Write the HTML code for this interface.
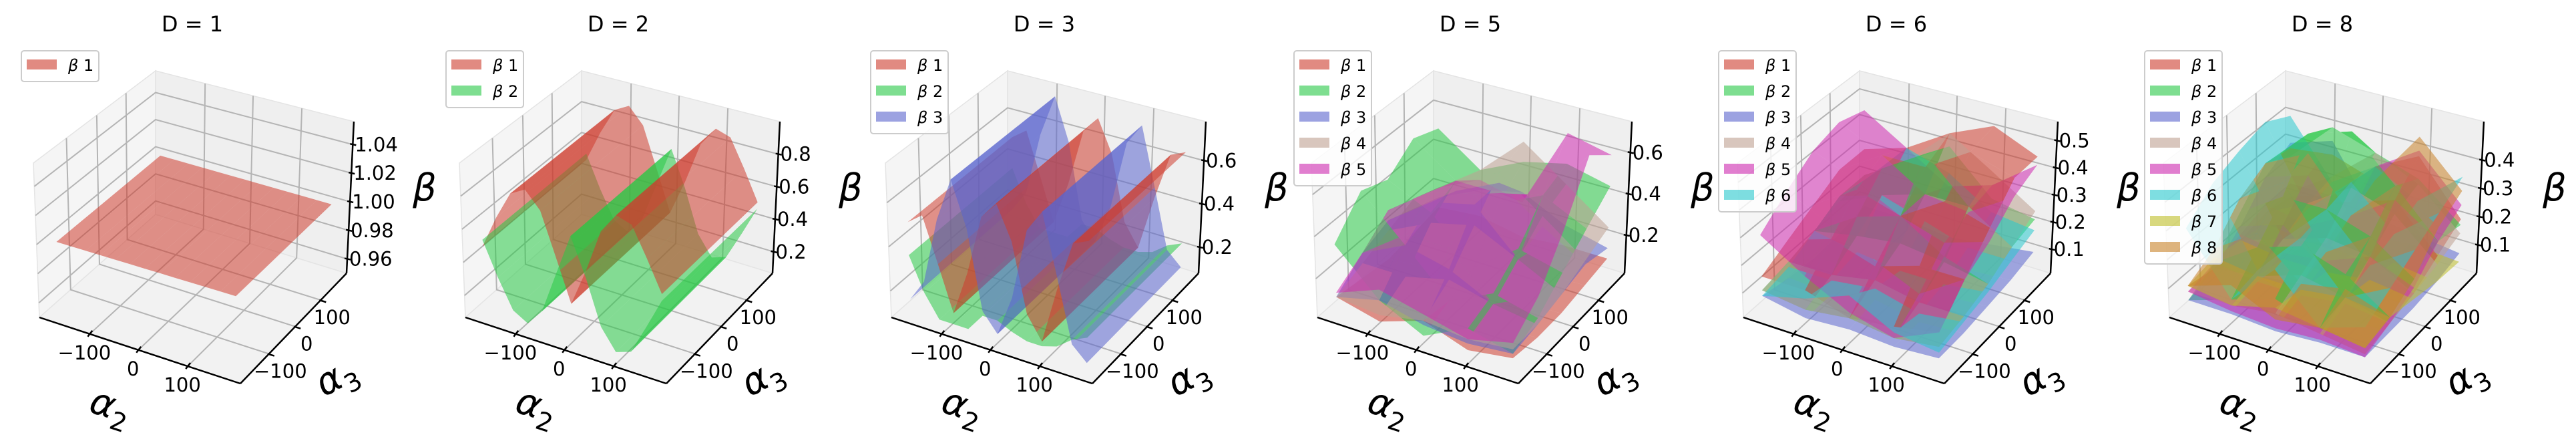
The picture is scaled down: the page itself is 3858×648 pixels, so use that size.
<!DOCTYPE html>
<html><head><meta charset="utf-8"><style>
html,body{margin:0;padding:0;background:#fff;}
svg{display:block;font-family:"DejaVu Sans","Liberation Sans",sans-serif;}
</style></head><body>
<svg id="chart" width="3858" height="648" viewBox="0 0 3858 648" xmlns="http://www.w3.org/2000/svg"></svg>
<script>
// ---------- data ----------
const a2Grid1D = [-180,-150,-120,-90,-60,-30,0,30,60,90,120,150,180];
const a2Grid2D = [-180,-90,0,90,180];
const a3Grid2D = [-180,-90,0,90,180];
const a2Ticks = [-100,0,100];
const a3Ticks = [-100,0,100];

const d1Beta1 = [1,1,1,1,1,1,1,1,1,1,1,1,1];
const d2Beta1 = [0.48,0.68,0.85,0.90,0.80,0.55,0.30,0.52,0.78,0.90,0.87,0.70,0.52];
const d2Beta2 = [0.52,0.32,0.15,0.10,0.20,0.45,0.70,0.48,0.22,0.10,0.13,0.30,0.48];
const d3Beta1 = [0.50,0.55,0.35,0.15,0.35,0.62,0.70,0.55,0.25,0.15,0.40,0.62,0.65];
const d3Beta2 = [0.35,0.20,0.10,0.10,0.10,0.18,0.18,0.15,0.13,0.13,0.15,0.20,0.23];
const d3Beta3 = [0.15,0.25,0.55,0.75,0.55,0.20,0.12,0.30,0.62,0.72,0.45,0.18,0.12];

const d5Beta1 = [[0.10,0.08,0.06,0.08,0.10],[0.05,0.05,0.08,0.10,0.12],[0.12,0.10,0.06,0.05,0.08],[0.05,0.04,0.05,0.08,0.10],[0.08,0.06,0.06,0.08,0.10]];
const d5Beta2 = [[0.35,0.50,0.45,0.55,0.50],[0.15,0.30,0.35,0.40,0.35],[0.05,0.10,0.15,0.35,0.45],[0.15,0.20,0.30,0.45,0.50],[0.10,0.15,0.25,0.35,0.45]];
const d5Beta3 = [[0.10,0.20,0.25,0.20,0.15],[0.15,0.30,0.40,0.35,0.25],[0.10,0.25,0.45,0.45,0.30],[0.08,0.15,0.25,0.30,0.20],[0.10,0.12,0.15,0.18,0.15]];
const d5Beta4 = [[0.10,0.15,0.20,0.25,0.20],[0.08,0.15,0.30,0.40,0.35],[0.12,0.20,0.35,0.50,0.55],[0.10,0.15,0.25,0.35,0.40],[0.12,0.12,0.15,0.20,0.25]];
const d5Beta5 = [[0.12,0.20,0.30,0.25,0.20],[0.20,0.35,0.45,0.40,0.30],[0.15,0.35,0.50,0.40,0.25],[0.10,0.15,0.25,0.45,0.65],[0.15,0.25,0.45,0.70,0.60]];

const d6Beta1 = [[0.15,0.20,0.25,0.30,0.30],[0.15,0.25,0.35,0.40,0.35],[0.10,0.20,0.30,0.40,0.45],[0.12,0.25,0.40,0.50,0.52],[0.15,0.25,0.35,0.45,0.45]];
const d6Beta2 = [[0.10,0.12,0.15,0.20,0.20],[0.08,0.12,0.25,0.35,0.30],[0.10,0.15,0.30,0.45,0.40],[0.08,0.12,0.20,0.30,0.25],[0.10,0.12,0.15,0.20,0.22]];
const d6Beta3 = [[0.08,0.06,0.05,0.06,0.08],[0.05,0.05,0.06,0.07,0.08],[0.06,0.08,0.10,0.08,0.06],[0.05,0.05,0.06,0.07,0.08],[0.06,0.06,0.07,0.08,0.10]];
const d6Beta4 = [[0.10,0.12,0.15,0.18,0.20],[0.08,0.12,0.18,0.25,0.30],[0.10,0.15,0.20,0.30,0.45],[0.08,0.12,0.18,0.30,0.35],[0.10,0.12,0.15,0.20,0.25]];
const d6Beta5 = [[0.30,0.38,0.45,0.48,0.45],[0.20,0.30,0.38,0.40,0.35],[0.12,0.22,0.30,0.30,0.25],[0.08,0.15,0.25,0.28,0.30],[0.15,0.25,0.30,0.38,0.42]];
const d6Beta6 = [[0.08,0.10,0.15,0.20,0.18],[0.12,0.10,0.12,0.25,0.35],[0.18,0.12,0.10,0.20,0.30],[0.10,0.08,0.10,0.15,0.20],[0.08,0.10,0.12,0.15,0.18]];

const d8Beta1 = [[0.10,0.08,0.10,0.12,0.10],[0.08,0.10,0.15,0.20,0.15],[0.10,0.12,0.18,0.25,0.30],[0.08,0.10,0.15,0.30,0.38],[0.06,0.08,0.10,0.15,0.20]];
const d8Beta2 = [[0.05,0.10,0.20,0.30,0.25],[0.10,0.20,0.30,0.45,0.40],[0.15,0.25,0.30,0.50,0.35],[0.10,0.20,0.25,0.35,0.30],[0.08,0.10,0.15,0.20,0.18]];
const d8Beta3 = [[0.05,0.08,0.15,0.25,0.30],[0.05,0.10,0.20,0.30,0.35],[0.04,0.06,0.08,0.10,0.12],[0.05,0.05,0.06,0.08,0.10],[0.05,0.05,0.05,0.06,0.08]];
const d8Beta4 = [[0.08,0.08,0.10,0.12,0.12],[0.08,0.10,0.15,0.20,0.22],[0.10,0.15,0.20,0.30,0.35],[0.08,0.12,0.18,0.25,0.28],[0.06,0.08,0.10,0.12,0.15]];
const d8Beta5 = [[0.08,0.10,0.12,0.15,0.15],[0.06,0.08,0.10,0.12,0.15],[0.05,0.08,0.12,0.20,0.30],[0.06,0.10,0.18,0.30,0.40],[0.05,0.08,0.12,0.20,0.25]];
const d8Beta6 = [[0.30,0.38,0.42,0.45,0.40],[0.10,0.12,0.15,0.18,0.20],[0.25,0.28,0.30,0.32,0.30],[0.10,0.12,0.15,0.18,0.22],[0.15,0.20,0.25,0.30,0.35]];
const d8Beta7 = [[0.10,0.12,0.10,0.08,0.06],[0.08,0.10,0.08,0.06,0.05],[0.12,0.10,0.08,0.06,0.05],[0.10,0.12,0.10,0.08,0.06],[0.08,0.10,0.08,0.06,0.05]];
const d8Beta8 = [[0.10,0.15,0.25,0.30,0.28],[0.15,0.25,0.35,0.38,0.30],[0.08,0.12,0.15,0.20,0.25],[0.10,0.15,0.25,0.35,0.45],[0.08,0.10,0.15,0.25,0.30]];

const zTicks1 = [0.96,0.98,1.00,1.02,1.04];
const zTicks2 = [0.2,0.4,0.6,0.8];
const zTicks3 = [0.2,0.4,0.6];
const zTicks5 = [0.2,0.4,0.6];
const zTicks6 = [0.1,0.2,0.3,0.4,0.5];
const zTicks8 = [0.1,0.2,0.3,0.4];

const palette = ['rgb(205,60,45)','rgb(40,200,70)','rgb(90,100,205)','rgb(190,160,145)','rgb(205,40,175)','rgb(40,200,205)','rgb(190,190,40)','rgb(200,130,40)'];

const panels = [
 {title:'D = 1', zlim:[0.950,1.056], zticks:zTicks1, dec:2, oneD:true, series:[d1Beta1]},
 {title:'D = 2', zlim:[0.068,1.0], zticks:zTicks2, dec:1, oneD:true, series:[d2Beta1,d2Beta2]},
 {title:'D = 3', zlim:[0.08,0.78], zticks:zTicks3, dec:1, oneD:true, series:[d3Beta1,d3Beta2,d3Beta3]},
 {title:'D = 5', zlim:[0.016,0.75], zticks:zTicks5, dec:1, oneD:false, series:[d5Beta1,d5Beta2,d5Beta3,d5Beta4,d5Beta5]},
 {title:'D = 6', zlim:[0.012,0.57], zticks:zTicks6, dec:1, oneD:false, series:[d6Beta1,d6Beta2,d6Beta3,d6Beta4,d6Beta5,d6Beta6]},
 {title:'D = 8', zlim:[0.0,0.536], zticks:zTicks8, dec:1, oneD:false, series:[d8Beta1,d8Beta2,d8Beta3,d8Beta4,d8Beta5,d8Beta6,d8Beta7,d8Beta8]}
];
const offsets = [0,638,1276,1914,2552,3190];

// ---------- projection ----------
function squareToQuad(p){
  const [x0,y0]=p[0],[x1,y1]=p[1],[x2,y2]=p[2],[x3,y3]=p[3];
  const dx1=x1-x2,dx2=x3-x2,dx3=x0-x1+x2-x3,dy1=y1-y2,dy2=y3-y2,dy3=y0-y1+y2-y3;
  const den=dx1*dy2-dx2*dy1;
  const g=(dx3*dy2-dx2*dy3)/den, h=(dx1*dy3-dx3*dy1)/den;
  const a=x1-x0+g*x1,b=x3-x0+h*x3,c=x0,d=y1-y0+g*y1,e=y3-y0+h*y3,f=y0;
  return (u,v)=>{const w=g*u+h*v+1;return [(a*u+b*v+c)/w,(d*u+e*v+f)/w];};
}
const Hf = squareToQuad([[59,475],[360,574],[519,409],[233,321]]);
const Hc = squareToQuad([[50,244],[364,331],[530,182],[233,106]]);
function P(u,v,w){const f=Hf(u,v),c=Hc(u,v);return [f[0]+(c[0]-f[0])*w,f[1]+(c[1]-f[1])*w];}
const uOf = a=>(a+205)/410;
const vOf = a=>(a+205)/410;

const NS='http://www.w3.org/2000/svg';
const svg=document.getElementById('chart');
function el(tag,attrs,parent){const e=document.createElementNS(NS,tag);for(const k in attrs)e.setAttribute(k,attrs[k]);(parent||svg).appendChild(e);return e;}
function pts(arr){return arr.map(p=>p[0].toFixed(1)+','+p[1].toFixed(1)).join(' ');}

panels.forEach((pd,pi)=>{
  const g=el('g',{transform:'translate('+offsets[pi]+',0)'});
  
  
  const [zmin,zmax]=pd.zlim;
  const wOf=z=>(z-zmin)/(zmax-zmin);

  const t=el('text',{x:288,y:47,'text-anchor':'middle','font-size':32,fill:'#000'},g);
  t.textContent=pd.title;
  
  

  const left=el('polygon',{points:pts([P(0,0,0),P(0,1,0),P(0,1,1),P(0,0,1)]),fill:'#f5f5f5',stroke:'#e4e4e4','stroke-width':1.5},g);
  
  
  const back=el('polygon',{points:pts([P(0,1,0),P(1,1,0),P(1,1,1),P(0,1,1)]),fill:'#efefef',stroke:'#e4e4e4','stroke-width':1.5},g);
  
  
  const floor=el('polygon',{points:pts([P(0,0,0),P(1,0,0),P(1,1,0),P(0,1,0)]),fill:'#f2f2f2',stroke:'#e4e4e4','stroke-width':1.5},g);
  
  

  const gl=el('g',{stroke:'#b4b4b4','stroke-width':2,fill:'none'},g);
  
  
  a2Ticks.forEach(a=>{const u=uOf(a);
    el('polyline',{points:pts([P(u,0,0),P(u,1,0),P(u,1,1)])},gl);});
  a3Ticks.forEach(a=>{const v=vOf(a);
    el('polyline',{points:pts([P(1,v,0),P(0,v,0),P(0,v,1)])},gl);});
  pd.zticks.forEach(z=>{const w=wOf(z);
    el('polyline',{points:pts([P(0,0,w),P(0,1,w),P(1,1,w)])},gl);});

  const ax=el('g',{stroke:'#000','stroke-width':2.5,fill:'none'},g);
  
  
  el('line',{x1:P(0,0,0)[0],y1:P(0,0,0)[1],x2:P(1,0,0)[0],y2:P(1,0,0)[1]},ax);
  el('line',{x1:P(1,0,0)[0],y1:P(1,0,0)[1],x2:P(1,1,0)[0],y2:P(1,1,0)[1]},ax);
  el('line',{x1:P(1,1,0)[0],y1:P(1,1,0)[1],x2:P(1,1,1)[0],y2:P(1,1,1)[1]},ax);

  const lab=el('g',{'font-size':29,fill:'#000'},g);
  
  
  a2Ticks.forEach(a=>{const p=P(uOf(a),0,0);
    el('line',{x1:p[0]+4,y1:p[1]-5,x2:p[0]-3,y2:p[1]+4},ax);
    const tx=el('text',{x:p[0]-8,y:p[1]+38,'text-anchor':'middle'},lab);
    tx.textContent=a<0?'\u2212'+Math.abs(a):String(a);
    
    });
  a3Ticks.forEach(a=>{const p=P(1,vOf(a),0);
    el('line',{x1:p[0]-2,y1:p[1],x2:p[0]+8,y2:p[1]+3},ax);
    const tx=el('text',{x:p[0]+17,y:p[1]+36,'text-anchor':'middle'},lab);
    tx.textContent=a<0?'\u2212'+Math.abs(a):String(a);
    
    });
  pd.zticks.forEach(z=>{const p=P(1,1,wOf(z));
    el('line',{x1:p[0]-4,y1:p[1]-1,x2:p[0]+5,y2:p[1]+1},ax);
    const tx=el('text',{x:p[0]+3,y:p[1]+10,'text-anchor':'start'},lab);
    tx.textContent=z.toFixed(pd.dec);
    
    });

  const xl=el('text',{x:0,y:0,'font-size':56,'font-style':'italic',transform:'translate(160,625) rotate(18)','text-anchor':'middle'},g);
  xl.innerHTML='α<tspan font-size="38" font-style="normal" dy="14">2</tspan>';
  
  
  const yl=el('text',{x:0,y:0,'font-size':56,'font-style':'italic',transform:'translate(512,580) rotate(-28)','text-anchor':'middle'},g);
  yl.innerHTML='α<tspan font-size="38" font-style="normal" dy="14">3</tspan>';
  
  
  const zl=el('text',{x:636,y:300,'font-size':56,'font-style':'italic','text-anchor':'middle'},g);
  zl.textContent='β';
  
  

  const quads=[];
  pd.series.forEach((s,si)=>{
    let a2s,a3s,Z;
    if(pd.oneD){a2s=a2Grid1D;a3s=[-180,180];Z=s.map(val=>[val,val]);}
    else{a2s=a2Grid2D;a3s=a3Grid2D;Z=s;}
    for(let i=0;i<a2s.length-1;i++)for(let j=0;j<a3s.length-1;j++){
      const u0=uOf(a2s[i]),u1=uOf(a2s[i+1]),v0=vOf(a3s[j]),v1=vOf(a3s[j+1]);
      const q=[P(u0,v0,wOf(Z[i][j])),P(u1,v0,wOf(Z[i+1][j])),P(u1,v1,wOf(Z[i+1][j+1])),P(u0,v1,wOf(Z[i][j+1]))];
      quads.push({key:(u0+u1)/2-(v0+v1)/2+si*0.001,q,si});
    }
  });
  quads.sort((a,b)=>a.key-b.key);
  const sg=el('g',{},g);
  
  
  quads.forEach(o=>{
    const pg=el('polygon',{points:pts(o.q),fill:palette[o.si],'fill-opacity':0.55},sg);
    
    
  });

  const n=pd.series.length;
  const lx=[32,30,28,24,22,22][pi];
  const lg=el('g',{},g);
  
  
  el('rect',{x:lx,y:76,width:116,height:7+39*n,rx:4,fill:'#fff','fill-opacity':0.8,stroke:'#cccccc','stroke-width':2},lg);
  for(let k=0;k<n;k++){
    const ey=80+39*k;
    const sw=el('rect',{x:lx+8,y:ey+9,width:45,height:15,fill:palette[k],'fill-opacity':0.6},lg);
    
    
    const tx=el('text',{x:lx+70,y:ey+26,'font-size':24},lg);
    tx.innerHTML='<tspan font-style="italic">β</tspan> '+(k+1);
    
    
  }
});
</script>
</body></html>
